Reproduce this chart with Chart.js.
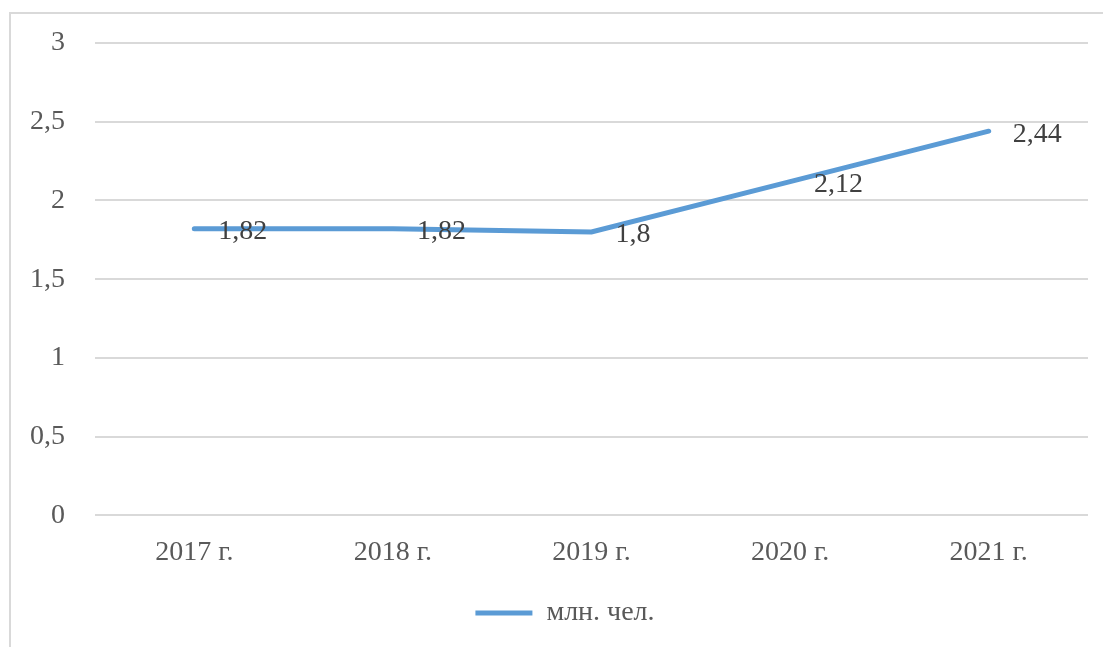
<!DOCTYPE html>
<html>
<head>
<meta charset="utf-8">
<script src="https://cdn.jsdelivr.net/npm/chart.js@4.4.0/dist/chart.umd.min.js"></script>
<style>
  body { margin: 0; background: #fff; overflow: hidden; }
  #frame {
    position: absolute; left: 9px; top: 12px;
    width: 1200px; height: 700px;
    border: 2px solid #d9d9d9;
  }
  #wrap { position: absolute; left: 0; top: 0; width: 1103px; height: 647px; }
</style>
</head>
<body>
<div id="frame"></div>
<div id="wrap"><canvas id="chart" width="1103" height="647"></canvas></div>
<script>
// data
const years = ["2017 г.", "2018 г.", "2019 г.", "2020 г.", "2021 г."];
const people = [1.82, 1.82, 1.8, 2.12, 2.44];
const seriesName = "млн. чел.";

const lineColor = "#5B9BD5";
const fontFamily = "'Liberation Serif', 'Times New Roman', serif";

const commaNum = v => String(v).replace(".", ",");

// value labels right of each point
const pointLabels = {
  id: "pointLabels",
  afterDatasetsDraw(chart) {
    const ctx = chart.ctx;
    const meta = chart.getDatasetMeta(0);
    ctx.save();
    ctx.font = "28px " + fontFamily;
    ctx.fillStyle = "#404040";
    ctx.textAlign = "left";
    ctx.textBaseline = "middle";
    meta.data.forEach((pt, i) => {
      ctx.fillText(commaNum(people[i]), pt.x + 24, pt.y + 3);
    });
    ctx.restore();
  }
};

// nudge the legend a bit right, like the original
const legendShift = {
  id: "legendShift",
  beforeDraw(chart) {
    if (chart.legend) chart.legend.left = 42;
  }
};

new Chart("chart", {
  type: "line",
  data: {
    labels: years,
    datasets: [{
      label: seriesName,
      data: people,
      borderColor: lineColor,
      backgroundColor: lineColor,
      borderWidth: 5,
      borderCapStyle: "round",
      pointRadius: 0,
      tension: 0
    }]
  },
  options: {
    responsive: false,
    animation: false,
    layout: { padding: { left: 0, right: 15, top: 43, bottom: 10 } },
    plugins: {
      tooltip: { enabled: false },
      legend: {
        position: "bottom",
        labels: {
          usePointStyle: true,
          pointStyle: "line",
          pointStyleWidth: 57,
          color: "#595959",
          font: { family: fontFamily, size: 28 },
          padding: 10
        }
      }
    },
    scales: {
      x: {
        offset: true,
        grid: { display: false, drawTicks: false },
        border: { display: false },
        ticks: {
          color: "#595959",
          font: { family: fontFamily, size: 28 },
          padding: 20,
          maxRotation: 0
        }
      },
      y: {
        min: 0,
        max: 3,
        afterFit(scale) {
          scale.width = 95;
          scale.paddingTop = 0;
          scale.paddingBottom = 0;
        },
        grid: { color: "#d9d9d9", lineWidth: 2, drawTicks: false },
        border: { display: false },
        ticks: {
          stepSize: 0.5,
          color: "#595959",
          font: { family: fontFamily, size: 28 },
          padding: 30,
          callback: v => commaNum(v)
        }
      }
    }
  },
  plugins: [pointLabels, legendShift]
});
</script>
</body>
</html>
